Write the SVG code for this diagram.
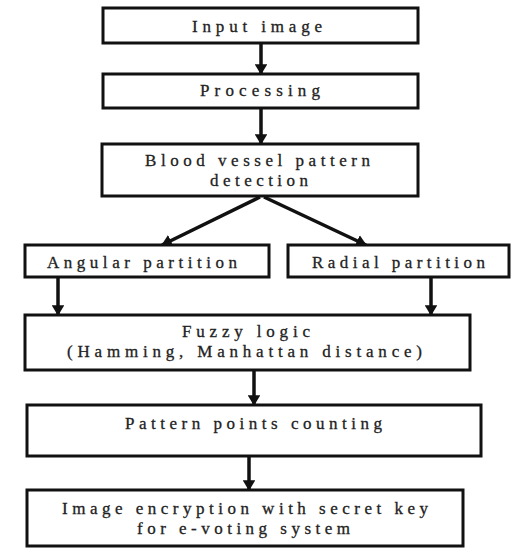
<svg xmlns="http://www.w3.org/2000/svg" width="520" height="549" viewBox="0 0 520 549">
<style>
.box{fill:#fff;stroke:#111;stroke-width:3}
.t{font-family:"Liberation Serif","Times New Roman",serif;font-size:17px;fill:#222;stroke:#222;stroke-width:0.3}
.c{stroke:#111;stroke-width:3.5;fill:none}
</style>
<defs>
<marker id="ah" markerWidth="3" markerHeight="3.6" refX="2.8" refY="1.8" orient="auto" markerUnits="strokeWidth">
<path d="M0,0 L3,1.8 L0,3.6 Z" fill="#111"/>
</marker>
</defs>
<rect width="520" height="549" fill="#fff"/>
<g id="connectors">
<line class="c" x1="261" y1="43" x2="261" y2="74" marker-end="url(#ah)"/>
<line class="c" x1="261" y1="108" x2="261" y2="144" marker-end="url(#ah)"/>
<line class="c" x1="260" y1="197" x2="162" y2="245" marker-end="url(#ah)"/>
<line class="c" x1="264" y1="197" x2="366" y2="245" marker-end="url(#ah)"/>
<line class="c" x1="58" y1="277" x2="58" y2="315" marker-end="url(#ah)"/>
<line class="c" x1="431" y1="277" x2="431" y2="315" marker-end="url(#ah)"/>
<line class="c" x1="254" y1="370" x2="254" y2="405" marker-end="url(#ah)"/>
<line class="c" x1="249" y1="456" x2="249" y2="490" marker-end="url(#ah)"/>
</g>
<g id="n1"><rect class="box" x="103" y="8" width="315" height="35"/>
<text class="t" x="192" y="32" textLength="130" lengthAdjust="spacing">Input image</text></g>
<g id="n2"><rect class="box" x="103" y="74" width="315" height="34"/>
<text class="t" x="200" y="96" textLength="120" lengthAdjust="spacing">Processing</text></g>
<g id="n3"><rect class="box" x="102" y="144" width="316" height="52"/>
<text class="t" x="145" y="166" textLength="225" lengthAdjust="spacing">Blood vessel pattern</text>
<text class="t" x="210" y="186" textLength="98" lengthAdjust="spacing">detection</text></g>
<g id="n4"><rect class="box" x="25" y="245" width="244" height="32"/>
<text class="t" x="47" y="268" textLength="190" lengthAdjust="spacing">Angular partition</text></g>
<g id="n5"><rect class="box" x="288" y="245" width="221" height="32"/>
<text class="t" x="312" y="268" textLength="173" lengthAdjust="spacing">Radial partition</text></g>
<g id="n6"><rect class="box" x="25" y="315" width="445" height="55"/>
<text class="t" x="182" y="337" textLength="128" lengthAdjust="spacing">Fuzzy logic</text>
<text class="t" x="67" y="357" textLength="355" lengthAdjust="spacing">(Hamming, Manhattan distance)</text></g>
<g id="n7"><rect class="box" x="27" y="405" width="454" height="51"/>
<text class="t" x="125" y="429" textLength="257" lengthAdjust="spacing">Pattern points counting</text></g>
<g id="n8"><rect class="box" x="27" y="490" width="436" height="56"/>
<text class="t" x="62" y="514" textLength="366" lengthAdjust="spacing">Image encryption with secret key</text>
<text class="t" x="137" y="534" textLength="213" lengthAdjust="spacing">for e-voting system</text></g>
</svg>
